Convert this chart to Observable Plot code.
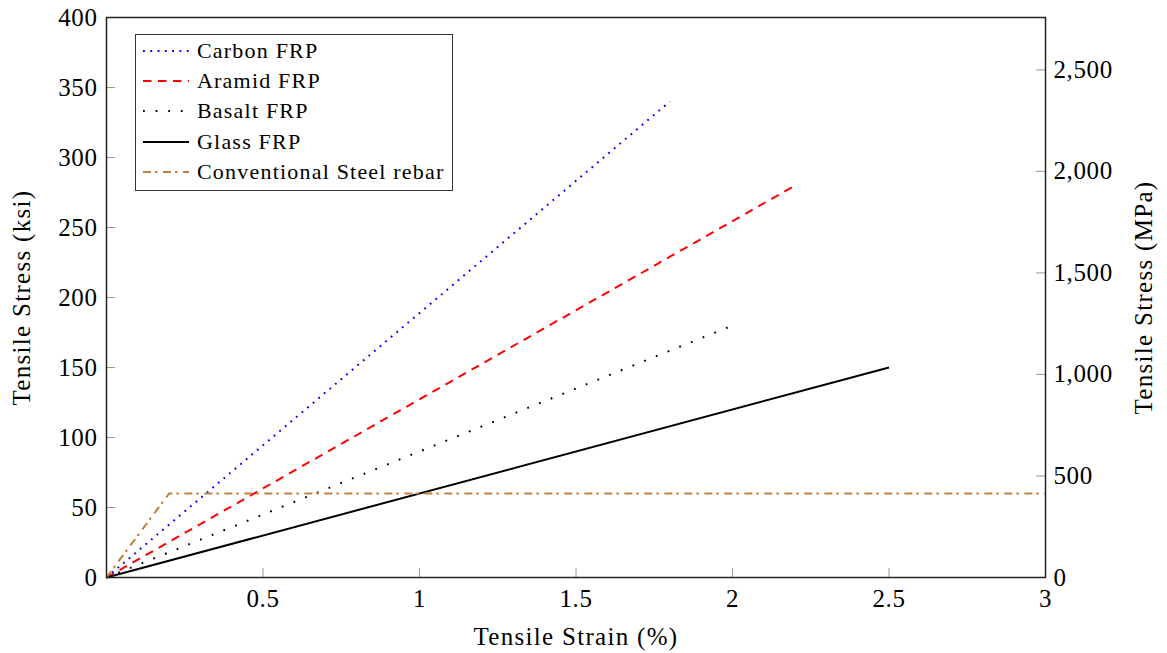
<!DOCTYPE html>
<html>
<head>
<meta charset="utf-8">
<script src="https://cdn.jsdelivr.net/npm/d3@7"></script>
<script src="https://cdn.jsdelivr.net/npm/@observablehq/plot@0.6"></script>
<style>
  html, body { margin: 0; padding: 0; background: #fff; }
  #wrap { position: relative; width: 1167px; height: 653px; font-family: "Liberation Serif", serif; }
  #legend { position: absolute; left: 135px; top: 34px; width: 316px; height: 155px;
            border: 1.3px solid #333; background: #fff; box-sizing: content-box; }
  .row { position: absolute; left: 7px; height: 30px; display: flex; align-items: center; font-size: 22px; letter-spacing: 1.2px; color: #000; white-space: nowrap; }
  .row svg { margin-right: 8px; }
  svg text { letter-spacing: 0.6px; }
  svg g[aria-label$="axis label"] text { letter-spacing: 1.3px; }
</style>
</head>
<body>
<div id="wrap"></div>
<script>
// ---- data ----
const seriesNames = ["Carbon FRP", "Aramid FRP", "Basalt FRP", "Glass FRP", "Conventional Steel rebar"];
const carbonStrain = [0, 1.8];
const carbonStress = [0, 340];
const aramidStrain = [0, 2.2];
const aramidStress = [0, 280];
const basaltStrain = [0, 2.0];
const basaltStress = [0, 180];
const glassStrain = [0, 2.5];
const glassStress = [0, 150];
const steelStrain = [0, 0.2, 3];
const steelStress = [0, 60, 60];
const xTickValues = [0.5, 1, 1.5, 2, 2.5, 3];
const yTickValues = [0, 50, 100, 150, 200, 250, 300, 350, 400];
const mpaTickValues = [0, 500, 1000, 1500, 2000, 2500];
const KSI_TO_MPA = 6.894757;

// ---- styles ----
const styles = {
  "Carbon FRP": {stroke: "#0000ff", dash: "1.8,5.5"},
  "Aramid FRP": {stroke: "#ff0000", dash: "8.5,6.5"},
  "Basalt FRP": {stroke: "#000000", dash: "1.8,10.8"},
  "Glass FRP": {stroke: "#000000", dash: null},
  "Conventional Steel rebar": {stroke: "#bf8040", dash: "8,4,2.5,5.5"}
};

const seriesData = [
  [carbonStrain, carbonStress],
  [aramidStrain, aramidStress],
  [basaltStrain, basaltStress],
  [glassStrain, glassStress],
  [steelStrain, steelStress]
].map(([xs, ys], i) => xs.map((x, j) => ({series: seriesNames[i], x, y: ys[j]})));

const W = 1167, H = 653;
const mL = 106, mR = 122, mT = 17, mB = 76;
const plotW = W - mL - mR, plotH = H - mT - mB;
const tickLen = 9;
const tickColor = "#9a9a9a";

const lineMarks = seriesData.map(d => {
  const s = styles[d[0].series];
  return Plot.line(d, {x: "x", y: "y", stroke: s.stroke, strokeWidth: 2, strokeDasharray: s.dash, strokeLinecap: "butt"});
});

const mpaTicksKsi = mpaTickValues.map(m => m / KSI_TO_MPA);

const chart = Plot.plot({
  width: W, height: H,
  marginLeft: mL, marginRight: mR, marginTop: mT, marginBottom: mB,
  style: {fontFamily: "Liberation Serif, serif", fontSize: "25px", background: "#fff", color: "#000"},
  x: {domain: [0, 3]},
  y: {domain: [0, 400]},
  marks: [
    // inward ticks
    Plot.tickX(xTickValues, {x: d => d, stroke: tickColor, strokeWidth: 1, insetTop: plotH - tickLen}),
    Plot.tickY(yTickValues, {y: d => d, stroke: tickColor, strokeWidth: 1, insetRight: plotW - tickLen}),
    Plot.tickY(mpaTicksKsi, {y: d => d, stroke: tickColor, strokeWidth: 1, insetLeft: plotW - tickLen}),
    ...lineMarks,
    Plot.frame({stroke: "#222", strokeWidth: 1.5}),
    Plot.axisX({ticks: xTickValues, tickSize: 0, tickPadding: 12, tickFormat: d => String(d),
      label: "Tensile Strain (%)", labelAnchor: "center", labelArrow: "none", labelOffset: 67}),
    Plot.axisY({anchor: "left", ticks: yTickValues, tickSize: 0, tickPadding: 9, tickFormat: d => String(d),
      label: "Tensile Stress (ksi)", labelAnchor: "center", labelArrow: "none", labelOffset: 94}),
    Plot.axisY({anchor: "right", ticks: mpaTicksKsi, tickSize: 0, tickPadding: 8,
      tickFormat: d => d3.format(",")(Math.round(d * KSI_TO_MPA)),
      label: "Tensile Stress (MPa)", labelAnchor: "center", labelArrow: "none", labelOffset: 106})
  ]
});

const wrap = document.getElementById("wrap");
wrap.appendChild(chart);

// ---- legend (HTML overlay) ----
const legend = document.createElement("div");
legend.id = "legend";
seriesNames.forEach((name, i) => {
  const s = styles[name];
  const row = document.createElement("div");
  row.className = "row";
  row.style.top = (1 + i * 30.2) + "px";
  row.innerHTML = `<svg width="46" height="10"><line x1="0" y1="5" x2="46" y2="5" stroke="${s.stroke}" stroke-width="2" ${s.dash ? `stroke-dasharray="${s.dash}"` : ""}/></svg><span>${name}</span>`;
  legend.appendChild(row);
});
wrap.appendChild(legend);
</script>
</body>
</html>
